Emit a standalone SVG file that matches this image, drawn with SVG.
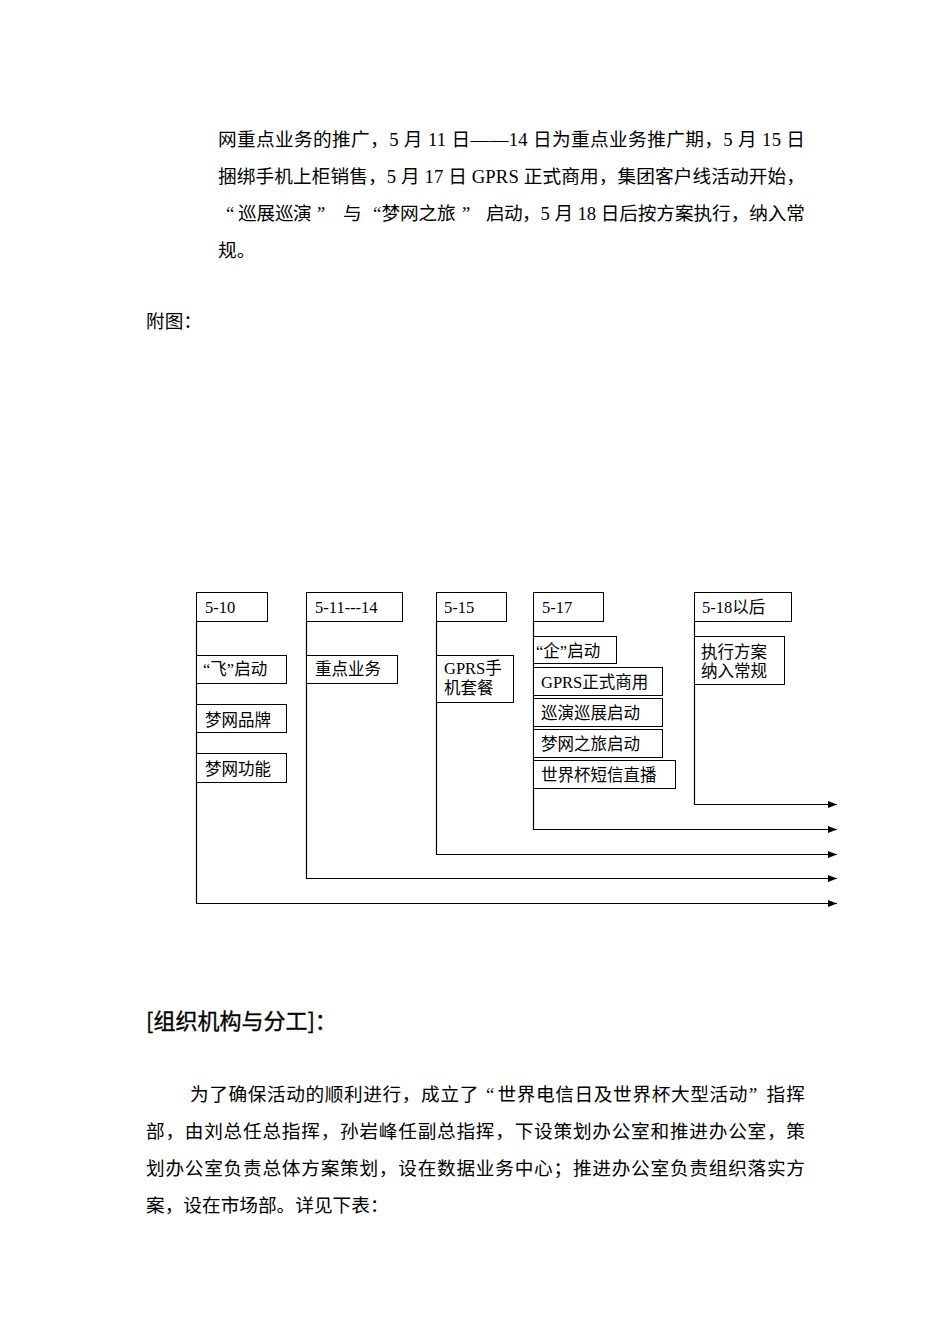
<svg xmlns="http://www.w3.org/2000/svg" width="950" height="1344" viewBox="0 0 950 1344">
<defs>
<style>
.p{font-family:"Liberation Serif","Noto Sans CJK SC",serif;font-size:18.67px;fill:#000}
.h{font-family:"Noto Sans CJK SC",sans-serif;font-size:22px;fill:#000;stroke:#000;stroke-width:0.35}
.b{fill:#fff;stroke:#000;stroke-width:1}
.t{font-family:"Liberation Serif","Noto Sans CJK SC",serif;font-size:16.5px;fill:#000}
.c{fill:none;stroke:#000;stroke-width:1.2}
</style>
<marker id="ar" markerWidth="9" markerHeight="7" refX="9" refY="3.5" orient="auto" markerUnits="userSpaceOnUse">
<path d="M0,0 L9,3.5 L0,7 Z" fill="#000"/>
</marker>
</defs>
<rect width="950" height="1344" fill="#fff"/>

<g id="para1">
<text class="p" x="218" y="146" textLength="587" lengthAdjust="spacing">网重点业务的推广，5 月 11 日——14 日为重点业务推广期，5 月 15 日</text>
<text class="p" x="218" y="183" textLength="587" lengthAdjust="spacing">捆绑手机上柜销售，5 月 17 日 GPRS 正式商用，集团客户线活动开始，</text>
<text class="p" y="220" x="226 238 256.5 275 293 317 343 373 381.5 400 418.5 437 462 486 504">“巡展巡演”与“梦网之旅”启动</text>
<text class="p" x="522" y="220" textLength="283" lengthAdjust="spacing">，5 月 18 日后按方案执行，纳入常</text>
<text class="p" x="218" y="257">规。</text>
<text class="p" x="146" y="328">附图：</text>
</g>

<g id="connectors">
<path class="c" d="M196.5,621 V903.5 H837" marker-end="url(#ar)"/>
<path class="c" d="M306.5,621 V878.5 H837" marker-end="url(#ar)"/>
<path class="c" d="M436.5,621 V854.5 H837" marker-end="url(#ar)"/>
<path class="c" d="M533.5,621 V829.5 H837" marker-end="url(#ar)"/>
<path class="c" d="M694.5,621 V804.5 H837" marker-end="url(#ar)"/>
</g>

<g id="n510"><rect class="b" x="196.5" y="592.5" width="71" height="29"/><text class="t" x="205" y="613">5-10</text></g>
<g id="n51114"><rect class="b" x="306.5" y="592.5" width="96" height="29"/><text class="t" x="315" y="613">5-11---14</text></g>
<g id="n515"><rect class="b" x="436.5" y="592.5" width="70" height="29"/><text class="t" x="444" y="613">5-15</text></g>
<g id="n517"><rect class="b" x="533.5" y="592.5" width="70" height="29"/><text class="t" x="542" y="613">5-17</text></g>
<g id="n518"><rect class="b" x="694.5" y="592.5" width="97" height="29"/><text class="t" x="702" y="613">5-18以后</text></g>

<g id="fei"><rect class="b" x="196.5" y="655.5" width="90" height="28"/><text class="t" x="203" y="675">“飞”启动</text></g>
<g id="brand"><rect class="b" x="196.5" y="704.5" width="90" height="28"/><text class="t" x="205" y="726">梦网品牌</text></g>
<g id="func"><rect class="b" x="196.5" y="753.5" width="90" height="29"/><text class="t" x="205" y="775">梦网功能</text></g>

<g id="key"><rect class="b" x="306.5" y="655.5" width="91" height="28"/><text class="t" x="315" y="675">重点业务</text></g>

<g id="gprsphone"><rect class="b" x="436.5" y="655.5" width="77" height="47"/><text class="t" x="444" y="674">GPRS手</text><text class="t" x="444" y="694">机套餐</text></g>

<g id="qi"><rect class="b" x="533.5" y="636.5" width="83" height="27"/><text class="t" x="536" y="657">“企”启动</text></g>
<g id="gprs"><rect class="b" x="533.5" y="667.5" width="129" height="28"/><text class="t" x="541" y="688">GPRS正式商用</text></g>
<g id="tour"><rect class="b" x="533.5" y="698.5" width="129" height="28"/><text class="t" x="541" y="719">巡演巡展启动</text></g>
<g id="trip"><rect class="b" x="533.5" y="729.5" width="129" height="28"/><text class="t" x="541" y="750">梦网之旅启动</text></g>
<g id="wc"><rect class="b" x="533.5" y="760.5" width="142" height="28"/><text class="t" x="541" y="781">世界杯短信直播</text></g>

<g id="exec"><rect class="b" x="694.5" y="636.5" width="90" height="48"/><text class="t" x="701" y="658">执行方案</text><text class="t" x="701" y="677">纳入常规</text></g>

<g id="heading">
<text class="h" x="146" y="1029">[组织机构与分工]：</text>
</g>

<g id="para2">
<text class="p" x="190" y="1101" textLength="288.3" lengthAdjust="spacing">为了确保活动的顺利进行，成立了</text>
<text class="p" x="486" y="1101">“</text>
<text class="p" x="497.5" y="1101" textLength="249.9" lengthAdjust="spacing">世界电信日及世界杯大型活动</text>
<text class="p" x="749" y="1101">”</text>
<text class="p" x="766.6" y="1101" textLength="38.4" lengthAdjust="spacing">指挥</text>
<text class="p" x="146" y="1138" textLength="659" lengthAdjust="spacing">部，由刘总任总指挥，孙岩峰任副总指挥，下设策划办公室和推进办公室，策</text>
<text class="p" x="146" y="1175" textLength="659" lengthAdjust="spacing">划办公室负责总体方案策划，设在数据业务中心；推进办公室负责组织落实方</text>
<text class="p" x="146" y="1212">案，设在市场部。详见下表：</text>
</g>
</svg>
